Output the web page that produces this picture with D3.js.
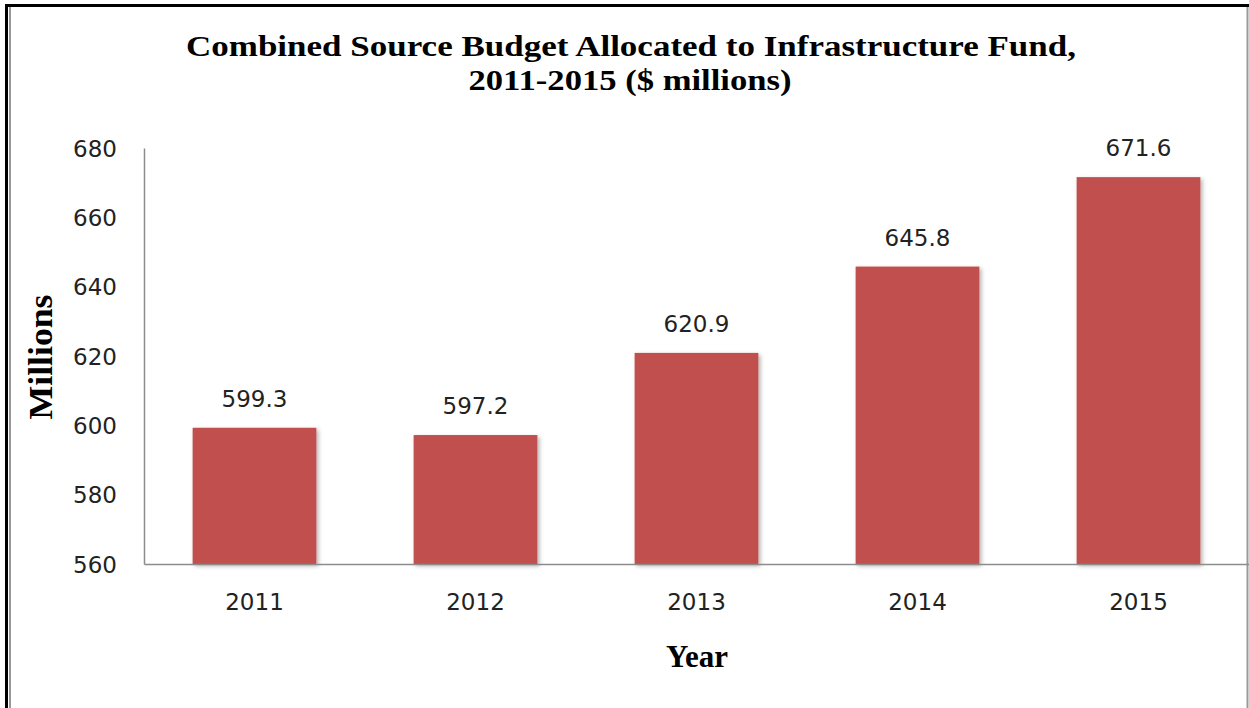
<!DOCTYPE html>
<html>
<head>
<meta charset="utf-8">
<script src="https://cdn.jsdelivr.net/npm/d3@7"></script>
<style>
  body { margin: 0; background: #fff; }
  svg { display: block; }
</style>
</head>
<body>
<div id="chart"></div>
<script>
// Data
var years = ["2011", "2012", "2013", "2014", "2015"];
var budget = [599.3, 597.2, 620.9, 645.8, 671.6];
var yTicks = [560, 580, 600, 620, 640, 660, 680];

var svgWidth = 1249;
var svgHeight = 708;

var plot = { left: 144, right: 1249, top: 148, bottom: 564 };

var svg = d3.select("#chart")
  .append("svg")
  .attr("width", svgWidth)
  .attr("height", svgHeight);

// drop shadow for the bars
var defs = svg.append("defs");
var shadow = defs.append("filter")
  .attr("id", "barShadow")
  .attr("x", "-10%").attr("y", "-10%")
  .attr("width", "130%").attr("height", "130%");
shadow.append("feDropShadow")
  .attr("dx", 2).attr("dy", 2)
  .attr("stdDeviation", 2)
  .attr("flood-color", "#000")
  .attr("flood-opacity", 0.3);

// outer frame
svg.append("line").attr("x1", 6.5).attr("y1", 4).attr("x2", 6.5).attr("y2", svgHeight)
  .attr("stroke", "#000").attr("stroke-width", 3);
svg.append("line").attr("x1", 5).attr("y1", 5.5).attr("x2", svgWidth).attr("y2", 5.5)
  .attr("stroke", "#000").attr("stroke-width", 3);
svg.append("line").attr("x1", 10).attr("y1", 7).attr("x2", 10).attr("y2", svgHeight)
  .attr("stroke", "#999").attr("stroke-width", 2);
svg.append("line").attr("x1", 1247.5).attr("y1", 7).attr("x2", 1247.5).attr("y2", svgHeight)
  .attr("stroke", "#999").attr("stroke-width", 2);

// Scales
var xScale = d3.scaleBand()
  .domain(years)
  .range([plot.left, plot.right])
  .paddingInner(0.44)
  .paddingOuter(0.22);

var yScale = d3.scaleLinear()
  .domain([560, 680])
  .range([plot.bottom, plot.top]);

// Title
var title = svg.append("g")
  .attr("font-family", "'Liberation Serif', 'Times New Roman', serif")
  .attr("font-weight", "bold")
  .attr("font-size", 29)
  .attr("text-anchor", "middle")
  .attr("fill", "#000");
title.append("text")
  .attr("x", 631).attr("y", 56)
  .attr("textLength", 890)
  .attr("lengthAdjust", "spacingAndGlyphs")
  .text("Combined Source Budget Allocated to Infrastructure Fund,");
title.append("text")
  .attr("x", 630).attr("y", 90)
  .attr("textLength", 323)
  .attr("lengthAdjust", "spacingAndGlyphs")
  .text("2011-2015 ($ millions)");

// Bars
svg.selectAll(".bar")
  .data(budget)
  .enter()
  .append("rect")
  .attr("class", "bar")
  .attr("x", (d, i) => xScale(years[i]))
  .attr("y", d => yScale(d))
  .attr("width", xScale.bandwidth())
  .attr("height", d => plot.bottom - yScale(d))
  .attr("fill", "#C0504D")
  .attr("filter", "url(#barShadow)");

// Axes
var leftAxis = d3.axisLeft(yScale).tickValues(yTicks).tickSize(0).tickPadding(27);
var bottomAxis = d3.axisBottom(xScale).tickSize(0).tickPadding(30);

var yAxis = svg.append("g")
  .attr("transform", `translate(${plot.left}, 0)`)
  .call(leftAxis);

var xAxis = svg.append("g")
  .attr("transform", `translate(0, ${plot.bottom})`)
  .call(bottomAxis);

[xAxis, yAxis].forEach(function(ax) {
  ax.select(".domain").attr("stroke", "#8c8c8c").attr("stroke-width", 1.5);
  ax.selectAll("text")
    .attr("font-family", "'DejaVu Sans', Verdana, sans-serif")
    .attr("font-size", 23)
    .attr("fill", "#222");
});
yAxis.selectAll("text").attr("dy", "0.36em");

// Value labels
svg.selectAll(".valueLabel")
  .data(budget)
  .enter()
  .append("text")
  .attr("class", "valueLabel")
  .attr("x", (d, i) => xScale(years[i]) + xScale.bandwidth() / 2)
  .attr("y", d => yScale(d) - 21)
  .attr("text-anchor", "middle")
  .attr("font-family", "'DejaVu Sans', Verdana, sans-serif")
  .attr("font-size", 23)
  .attr("fill", "#222")
  .text(d => d.toFixed(1));

// Axis titles
svg.append("text")
  .attr("transform", "translate(52, 357) rotate(-90)")
  .attr("text-anchor", "middle")
  .attr("font-family", "'Liberation Serif', 'Times New Roman', serif")
  .attr("font-weight", "bold")
  .attr("font-size", 33)
  .attr("textLength", 125)
  .attr("lengthAdjust", "spacingAndGlyphs")
  .text("Millions");

svg.append("text")
  .attr("x", 697).attr("y", 667)
  .attr("text-anchor", "middle")
  .attr("font-family", "'Liberation Serif', 'Times New Roman', serif")
  .attr("font-weight", "bold")
  .attr("font-size", 31)
  .text("Year");
</script>
</body>
</html>
